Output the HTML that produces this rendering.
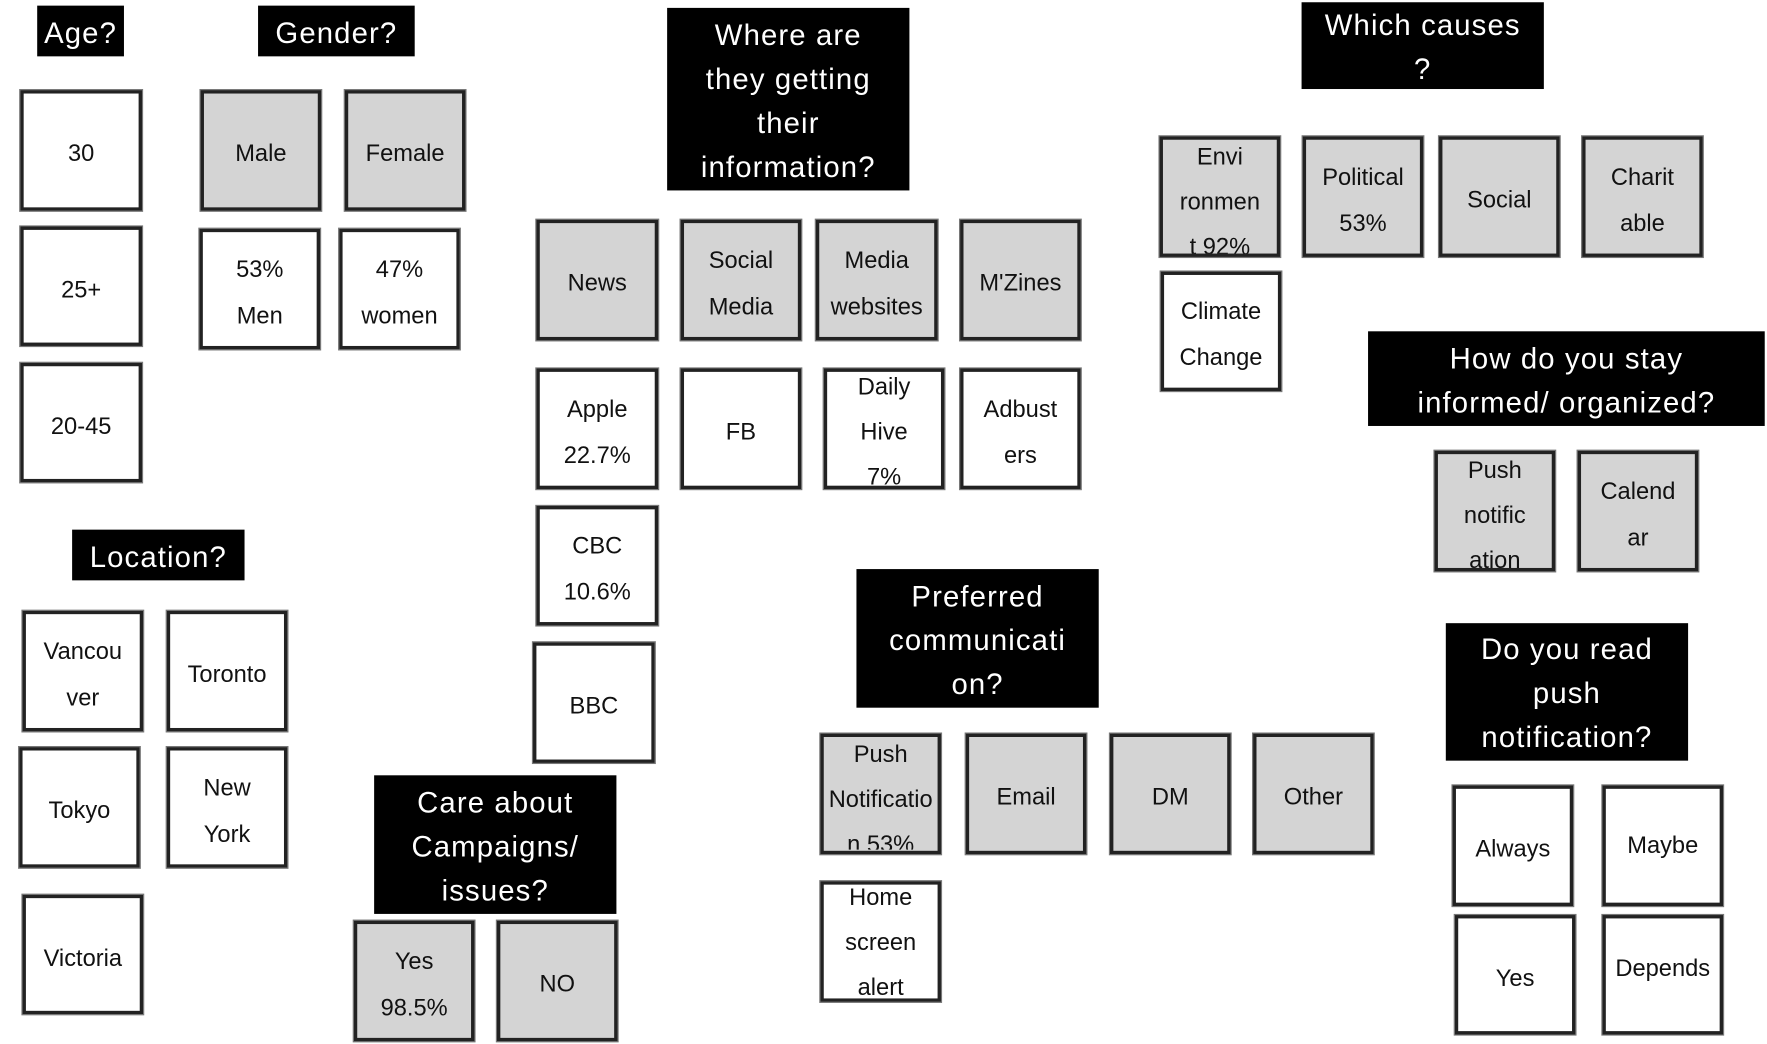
<!DOCTYPE html>
<html><head><meta charset="utf-8"><style>
html,body{margin:0;padding:0;background:#fff;width:1767px;height:1044px;overflow:hidden}
#c{position:absolute;left:0;top:0;width:1568px;height:926px;transform:scale(1.1269);transform-origin:0 0;font-family:"Liberation Sans",sans-serif}
.h{position:absolute;background:#000;color:#fff;display:flex;align-items:center;justify-content:center;text-align:center;font-size:26px;line-height:39px;letter-spacing:1px;padding-top:3px;box-sizing:border-box}
.b{position:absolute;box-sizing:border-box;border:3px solid #222;box-shadow:0 0 0 1px #777;display:flex;align-items:center;justify-content:center;text-align:center;font-size:21px;line-height:41px;overflow:visible;white-space:nowrap;color:#111;padding-top:6px}
.g{background:#d4d4d4}.w{background:#fff}
</style></head><body><div id="c">
<div class="h" style="left:33px;top:5px;width:77px;height:45px">Age?</div>
<div class="h" style="left:229px;top:5px;width:139px;height:45px">Gender?</div>
<div class="h" style="left:592px;top:7px;width:215px;height:162px">Where are<br>they getting<br>their<br>information?</div>
<div class="h" style="left:1155px;top:2px;width:215px;height:77px">Which causes<br>?</div>
<div class="h" style="left:64px;top:470px;width:153px;height:45px">Location?</div>
<div class="h" style="left:1214px;top:294px;width:352px;height:84px">How do you stay<br>informed/ organized?</div>
<div class="h" style="left:760px;top:505px;width:215px;height:123px">Preferred<br>communicati<br>on?</div>
<div class="h" style="left:332px;top:688px;width:215px;height:123px">Care about<br>Campaigns/<br>issues?</div>
<div class="h" style="left:1283px;top:553px;width:215px;height:122px">Do you read<br>push<br>notification?</div>

<div class="b w" style="left:18px;top:80px;width:108px;height:107px">30</div>
<div class="b w" style="left:18px;top:201px;width:108px;height:106px">25+</div>
<div class="b w" style="left:18px;top:322px;width:108px;height:106px">20-45</div>

<div class="b g" style="left:178px;top:80px;width:107px;height:107px">Male</div>
<div class="b g" style="left:306px;top:80px;width:107px;height:107px">Female</div>
<div class="b w" style="left:177px;top:203px;width:107px;height:107px">53%<br>Men</div>
<div class="b w" style="left:301px;top:203px;width:107px;height:107px">47%<br>women</div>

<div class="b g" style="left:476px;top:195px;width:108px;height:107px">News</div>
<div class="b g" style="left:604px;top:195px;width:107px;height:107px">Social<br>Media</div>
<div class="b g" style="left:724px;top:195px;width:108px;height:107px">Media<br>websites</div>
<div class="b g" style="left:852px;top:195px;width:107px;height:107px">M'Zines</div>
<div class="b w" style="left:476px;top:327px;width:108px;height:107px">Apple<br>22.7%</div>
<div class="b w" style="left:604px;top:327px;width:107px;height:107px">FB</div>
<div class="b w" style="left:731px;top:327px;width:107px;height:107px;line-height:40px">Daily<br>Hive<br>7%</div>
<div class="b w" style="left:852px;top:327px;width:107px;height:107px">Adbust<br>ers</div>
<div class="b w" style="left:476px;top:449px;width:108px;height:106px">CBC<br>10.6%</div>
<div class="b w" style="left:473px;top:570px;width:108px;height:107px">BBC</div>

<div class="b g" style="left:1029px;top:121px;width:107px;height:107px;line-height:40px;overflow:hidden;align-items:flex-start;padding-top:0"><div style="margin-top:-4px">Envi<br>ronmen<br>t 92%</div></div>
<div class="b g" style="left:1156px;top:121px;width:107px;height:107px">Political<br>53%</div>
<div class="b g" style="left:1277px;top:121px;width:107px;height:107px">Social</div>
<div class="b g" style="left:1404px;top:121px;width:107px;height:107px">Charit<br>able</div>
<div class="b w" style="left:1030px;top:241px;width:107px;height:106px">Climate<br>Change</div>

<div class="b g" style="left:1273px;top:400px;width:107px;height:107px;line-height:40px;overflow:hidden;align-items:flex-start;padding-top:0"><div style="margin-top:-5px">Push<br>notific<br>ation</div></div>
<div class="b g" style="left:1400px;top:400px;width:107px;height:107px">Calend<br>ar</div>

<div class="b w" style="left:20px;top:542px;width:107px;height:107px">Vancou<br>ver</div>
<div class="b w" style="left:148px;top:542px;width:107px;height:107px">Toronto</div>
<div class="b w" style="left:17px;top:663px;width:107px;height:107px">Tokyo</div>
<div class="b w" style="left:148px;top:663px;width:107px;height:107px">New<br>York</div>
<div class="b w" style="left:20px;top:794px;width:107px;height:106px">Victoria</div>

<div class="b g" style="left:728px;top:651px;width:107px;height:107px;line-height:40px;align-items:flex-start;overflow:visible;padding-top:0"><div style="margin-top:-4px;height:104px;overflow:hidden;width:140px;flex:none">Push<br>Notificatio<br>n 53%</div></div>
<div class="b g" style="left:857px;top:651px;width:107px;height:107px">Email</div>
<div class="b g" style="left:985px;top:651px;width:107px;height:107px">DM</div>
<div class="b g" style="left:1112px;top:651px;width:107px;height:107px">Other</div>
<div class="b w" style="left:728px;top:782px;width:107px;height:107px;line-height:40px;padding-top:2px">Home<br>screen<br>alert</div>

<div class="b g" style="left:314px;top:817px;width:107px;height:107px">Yes<br>98.5%</div>
<div class="b g" style="left:441px;top:817px;width:107px;height:107px">NO</div>

<div class="b w" style="left:1289px;top:697px;width:107px;height:107px">Always</div>
<div class="b w" style="left:1422px;top:697px;width:107px;height:107px;align-items:flex-start;padding-top:30px">Maybe</div>
<div class="b w" style="left:1291px;top:812px;width:107px;height:106px">Yes</div>
<div class="b w" style="left:1422px;top:812px;width:107px;height:106px;align-items:flex-start;padding-top:24px">Depends</div>
</div></body></html>
